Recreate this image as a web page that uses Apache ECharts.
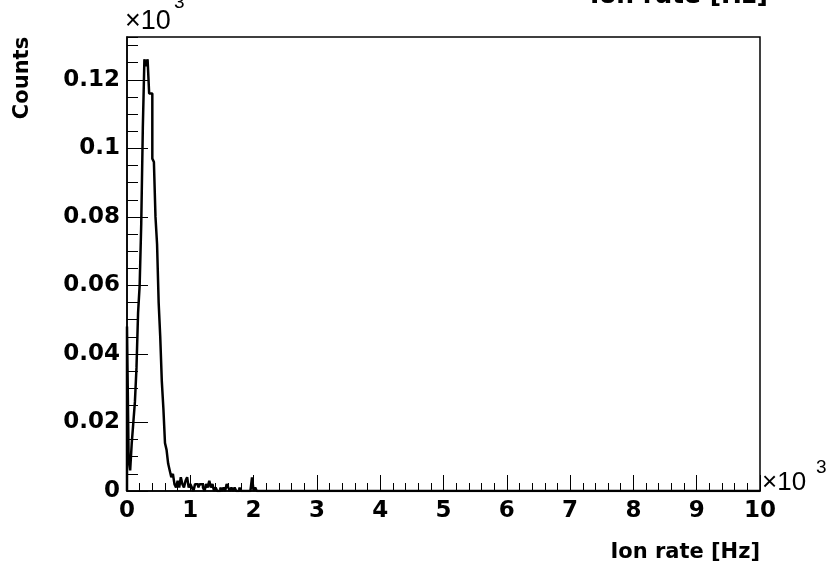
<!DOCTYPE html>
<html>
<head>
<meta charset="utf-8">
<title>Ion rate</title>
<script src="https://cdn.jsdelivr.net/npm/echarts@6/dist/echarts.min.js"></script>
<style>
  html, body { margin: 0; padding: 0; background: #fff; }
  #chart { width: 837px; height: 569px; }
</style>
</head>
<body>
<div id="chart"></div>
<script>
// Ion rate histogram: 25 Hz bins starting at 0 Hz, entries per bin
const binWidthHz = 25;
const binCounts = [
  48, 10, 6, 14, 20, 26, 36, 52, 60, 78,
  106, 126, 124, 126, 116, 116, 97, 96, 80, 72,
  55, 45, 32, 24, 14, 12, 8, 6, 4, 5,
  2, 1, 3, 1, 4, 2, 1, 3, 4, 1,
  2, 1, 0, 2, 2, 1, 2, 2, 1, 0,
  2, 1, 3, 1, 2, 0, 1, 0, 0, 1,
  0, 1, 0, 2, 1, 0, 1, 0, 1, 0,
  0, 1, 0, 0, 0, 0, 0, 0, 0, 4,
  0, 1
];
const xRangeHz = [0, 10000];
const yMaxCounts = 132.5;
const xTitle = 'Ion rate [Hz]';
const yTitle = 'Counts';
const histTitle = 'Ion rate [Hz]';

// Histogram outline: one point per bin low edge, stepped at the next edge
const outline = [[xRangeHz[0], 0]];
binCounts.forEach((c, i) => outline.push([xRangeHz[0] + i * binWidthHz, c]));
outline.push([xRangeHz[0] + binCounts.length * binWidthHz, 0]);
outline.push([xRangeHz[1], 0]);

const labelFont = 'DejaVu Sans';
const chart = echarts.init(document.getElementById('chart'), null, { renderer: 'canvas' });

chart.setOption({
  backgroundColor: '#ffffff',
  animation: false,
  grid: {
    left: 127, top: 37, right: 77, bottom: 78,
    show: true, borderColor: '#000', borderWidth: 1.5
  },
  xAxis: {
    type: 'value',
    min: xRangeHz[0], max: xRangeHz[1], interval: 1000,
    axisLine: { show: true, lineStyle: { color: '#000', width: 1.5 } },
    axisTick: { show: true, inside: true, length: 16, lineStyle: { color: '#000', width: 1 } },
    minorTick: { show: true, splitNumber: 5, length: 8, lineStyle: { color: '#000', width: 1 } },
    splitLine: { show: false },
    axisLabel: {
      margin: 9, color: '#000', fontFamily: labelFont, fontWeight: 'bold', fontSize: 23,
      formatter: v => String(v / 1000)
    }
  },
  yAxis: [
    {
      type: 'value', position: 'left',
      min: 0, max: yMaxCounts, interval: 20,
      axisLine: { show: true, lineStyle: { color: '#000', width: 1.5 } },
      axisTick: { show: true, inside: true, length: 21, lineStyle: { color: '#000', width: 1 } },
      splitLine: { show: false },
      axisLabel: {
        margin: 7, color: '#000', fontFamily: labelFont, fontWeight: 'bold', fontSize: 23,
        showMaxLabel: false,
        formatter: v => (v === 0 ? '0' : String(+(v / 1000).toFixed(3)))
      }
    },
    {
      // secondary divisions of the count axis
      type: 'value', position: 'left',
      min: 0, max: yMaxCounts, interval: 5,
      axisLine: { show: false },
      axisTick: { show: true, inside: true, length: 11, lineStyle: { color: '#000', width: 1 } },
      splitLine: { show: false },
      axisLabel: { show: false }
    }
  ],
  series: [{
    type: 'line',
    xAxisIndex: 0, yAxisIndex: 0,
    step: 'end',
    symbol: 'none',
    data: outline,
    lineStyle: { color: '#000', width: 2.5 },
    z: 3
  }],
  graphic: [
    { type: 'text', x: 768, y: 9, style: { text: histTitle, textAlign: 'right', textVerticalAlign: 'bottom',
      font: 'bold 25px "DejaVu Sans"', fill: '#000' } },
    { type: 'text', x: 23, y: 78, rotation: Math.PI / 2, style: { text: yTitle, textAlign: 'center', textVerticalAlign: 'middle',
      font: 'bold 21px "DejaVu Sans"', fill: '#000' } },
    { type: 'text', x: 760, y: 553, style: { text: xTitle, textAlign: 'right', textVerticalAlign: 'middle',
      font: 'bold 21px "DejaVu Sans"', fill: '#000' } },
    // exponent of the count axis
    { type: 'text', x: 125, y: 22, style: { text: '\u00d710', textAlign: 'left', textVerticalAlign: 'middle',
      font: '27px "Liberation Sans"', fill: '#000' } },
    { type: 'text', x: 174, y: 3, style: { text: '3', textAlign: 'left', textVerticalAlign: 'middle',
      font: '19px "Liberation Sans"', fill: '#000' } },
    // exponent of the rate axis
    { type: 'text', x: 762, y: 483, style: { text: '\u00d710', textAlign: 'left', textVerticalAlign: 'middle',
      font: '26px "Liberation Sans"', fill: '#000' } },
    { type: 'text', x: 816, y: 468, style: { text: '3', textAlign: 'left', textVerticalAlign: 'middle',
      font: '19px "Liberation Sans"', fill: '#000' } }
  ]
});
</script>
</body>
</html>
